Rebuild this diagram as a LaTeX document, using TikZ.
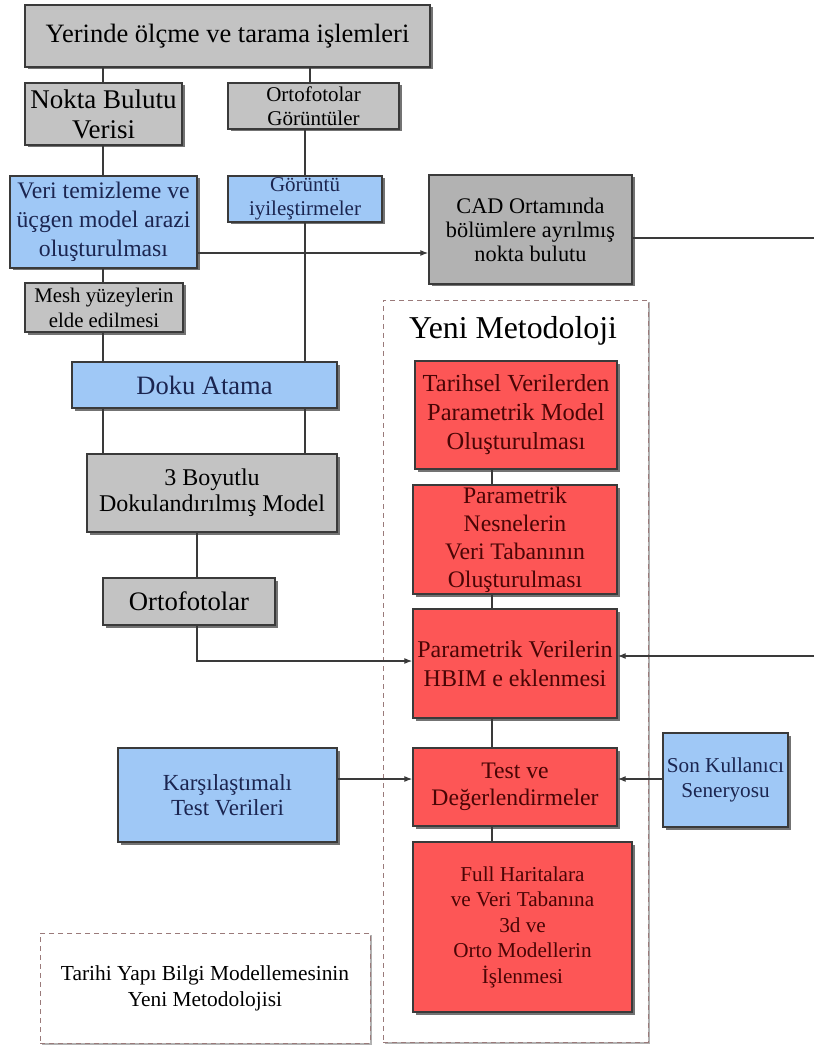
\documentclass[tikz,border=0pt]{standalone}
\usepackage{fontspec}
\setmainfont{Liberation Serif}
\usetikzlibrary{shadows,arrows.meta,positioning}
\definecolor{gfill}{HTML}{C3C3C3}
\definecolor{cadfill}{HTML}{B2B2B2}
\definecolor{bfill}{HTML}{9FC8F6}
\definecolor{rfill}{HTML}{FD5656}
\definecolor{edge}{HTML}{3A3A3A}
\definecolor{btext}{HTML}{1B2550}
\definecolor{rtext}{HTML}{4A0505}
\definecolor{dashc}{HTML}{9A7A7A}
\newcommand{\fsz}[2]{\fontsize{#1}{#2}\selectfont}
\begin{document}
\begin{tikzpicture}[x=1pt,y=-1pt,
  box/.style={draw=edge,line width=1.4pt,inner sep=0pt,align=center,
    drop shadow={shadow xshift=2.5pt,shadow yshift=-2.5pt,opacity=0.55,fill=black}},
  gbox/.style={box,fill=gfill,text=black},
  cbox/.style={box,fill=cadfill,text=black},
  bbox/.style={box,fill=bfill,text=btext},
  rbox/.style={box,fill=rfill,text=rtext},
  conn/.style={draw=edge,line width=1.2pt},
  arr/.style={conn,-{Latex[length=8pt,width=6pt]}},
  dbox/.style={draw=dashc,dashed,line width=1pt,dash pattern=on 5pt off 4pt,fill=white,
    drop shadow={shadow xshift=2pt,shadow yshift=-2pt,opacity=0.3,fill=black}}
]
\useasboundingbox (0,0) rectangle (814,1048);
\fill[white] (0,0) rectangle (814,1048);

% dashed frames
\node[dbox,minimum width=265pt,minimum height=742pt,inner sep=0pt] (frame) at (515.5,671) {};
\node[font=\fsz{31.8}{36}] (yeni) at (513,331) {Yeni Metodoloji};
\node[dbox,minimum width=330pt,minimum height=110pt,inner sep=0pt,align=center,
  font=\fsz{21.4}{26}] (legend) at (205,988) {Tarihi Yapı Bilgi Modellemesinin\\Yeni Metodolojisi};

% left column
\node[gbox,minimum width=405pt,minimum height=62pt,font=\fsz{26.5}{30}] (top) at (227.5,36) {Yerinde ölçme ve tarama işlemleri};
\node[gbox,minimum width=157pt,minimum height=62pt,font=\fsz{27}{30}] (nokta) at (103.5,114) {Nokta Bulutu\\Verisi};
\node[gbox,minimum width=171pt,minimum height=46pt,font=\fsz{21}{24}] (orto1) at (313.5,106) {Ortofotolar\\Görüntüler};
\node[bbox,minimum width=187pt,minimum height=92pt,font=\fsz{23.7}{29}] (veri) at (103.5,222) {Veri temizleme ve\\üçgen model arazi\\oluşturulması};
\node[bbox,minimum width=154pt,minimum height=46pt,font=\fsz{21}{24}] (gor) at (305,199) {Görüntü\\iyileştirmeler};
\node[cbox,minimum width=203pt,minimum height=109pt,font=\fsz{22.3}{24}] (cad) at (530.5,229.5) {CAD Ortamında\\bölümlere ayrılmış\\nokta bulutu};
\node[gbox,minimum width=158pt,minimum height=49pt,font=\fsz{20.8}{25}] (mesh) at (104,307.5) {Mesh yüzeylerin\\elde edilmesi};
\node[bbox,minimum width=265pt,minimum height=46pt,font=\fsz{26.5}{30}] (doku) at (204.5,385) {Doku Atama};
\node[gbox,minimum width=250pt,minimum height=78pt,font=\fsz{24}{26}] (boyut) at (212,493) {3 Boyutlu\\Dokulandırılmış Model};
\node[gbox,minimum width=172pt,minimum height=47pt,font=\fsz{26.7}{30}] (orto2) at (189,601.5) {Ortofotolar};
\node[bbox,minimum width=219pt,minimum height=94pt,font=\fsz{23}{25}] (kars) at (227.5,795) {Karşılaştımalı\\Test Verileri};

% red column
\node[rbox,minimum width=202pt,minimum height=108pt,font=\fsz{24.5}{29}] (tarih) at (516,415) {Tarihsel Verilerden\\Parametrik Model\\Oluşturulması};
\node[rbox,minimum width=204pt,minimum height=109pt,font=\fsz{23.7}{28}] (nesne) at (515,539.5) {Parametrik\\Nesnelerin\\Veri Tabanının\\Oluşturulması};
\node[rbox,minimum width=204pt,minimum height=109pt,font=\fsz{24}{29}] (hbim) at (515,663.5) {Parametrik Verilerin\\HBIM e eklenmesi};
\node[rbox,minimum width=204pt,minimum height=78pt,font=\fsz{23.7}{27}] (test) at (515,787) {Test ve\\Değerlendirmeler};
\node[rbox,minimum width=219pt,minimum height=170pt,font=\fsz{21.2}{25.5}] (full) at (522.5,927) {Full Haritalara\\ve Veri Tabanına\\3d ve\\Orto Modellerin\\İşlenmesi};
\node[bbox,minimum width=125pt,minimum height=94pt,font=\fsz{21.2}{25}] (son) at (725.5,780) {Son Kullanıcı\\Seneryosu};

% free ends
\coordinate (e1) at (814,238);
\coordinate (e2) at (814,656);
\coordinate (bend) at (197,661);

% connectors
\draw[conn] (top.south -| 103,0) -- (nokta.north -| 103,0);
\draw[conn] (top.south -| 310,0) -- (orto1.north -| 310,0);
\draw[conn] (nokta.south -| 103,0) -- (veri.north -| 103,0);
\draw[conn] (veri.south -| 103,0) -- (mesh.north -| 103,0);
\draw[conn] (mesh.south -| 103,0) -- (doku.north -| 103,0);
\draw[conn] (orto1.south -| 305,0) -- (gor.north);
\draw[conn] (gor.south) -- (doku.north -| 305,0);
\draw[conn] (doku.south -| 103,0) -- (boyut.north -| 103,0);
\draw[conn] (doku.south -| 305,0) -- (boyut.north -| 305,0);
\draw[conn] (boyut.south -| 197,0) -- (orto2.north -| 197,0);
\draw[arr] (veri.east |- 0,253) -- (cad.west |- 0,253);
\draw[conn] (cad.east |- 0,238) -- (e1);
\draw[arr] (orto2.south -| bend) -- (bend) -- (hbim.west |- bend);
\draw[arr] (e2) -- (hbim.east |- e2);
\draw[conn] (tarih.south -| 492,0) -- (nesne.north -| 492,0);
\draw[conn] (nesne.south -| 492,0) -- (hbim.north -| 492,0);
\draw[conn] (hbim.south -| 492,0) -- (test.north -| 492,0);
\draw[conn] (test.south -| 492,0) -- (full.north -| 492,0);
\draw[arr] (kars.east |- 0,779) -- (test.west |- 0,779);
\draw[arr] (son.west |- 0,779) -- (test.east |- 0,779);
\end{tikzpicture}
\end{document}
